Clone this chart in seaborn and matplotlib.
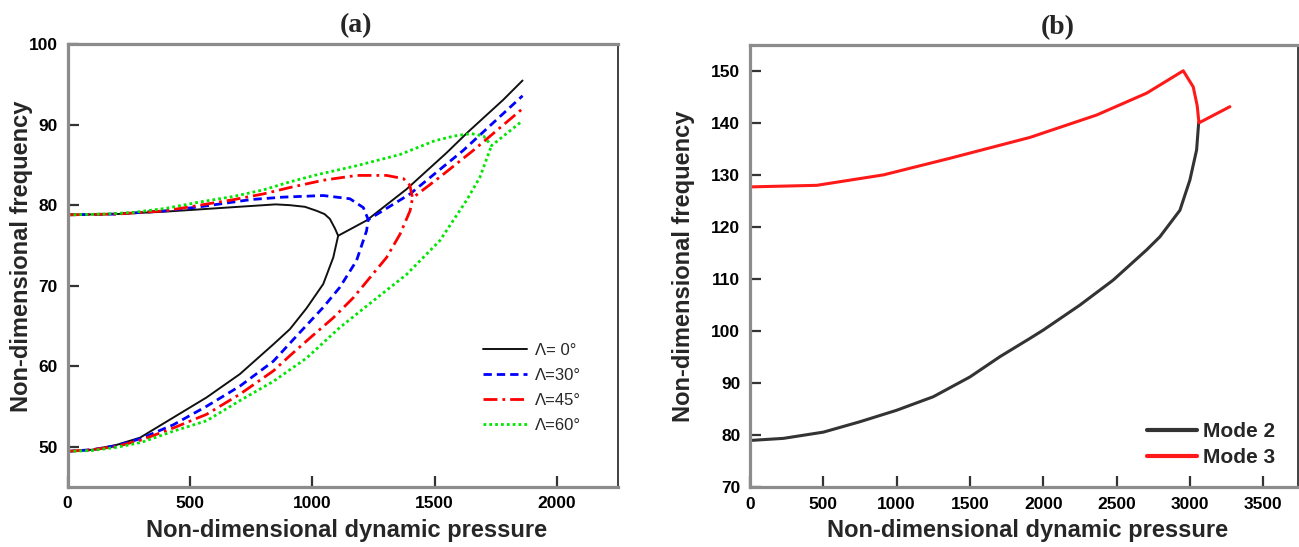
import matplotlib
matplotlib.use('Agg')
import pandas as pd
import seaborn as sns
from matplotlib import pyplot as plt

# ---- panel (a): sweep angle curves, two branches each ----
sweep_labels = ['Λ= 0°', 'Λ=30°', 'Λ=45°', 'Λ=60°']

upper_0_x = [0, 200, 400, 600, 750, 850, 909, 970, 1018, 1050, 1072, 1093, 1106, 1222, 1386, 1549, 1637, 1781, 1860]
upper_0_y = [78.8, 78.9, 79.2, 79.6, 79.9, 80.1, 80.0, 79.8, 79.3, 78.9, 78.3, 77.1, 76.2, 78.1, 82.0, 86.5, 89.1, 93.1, 95.5]
lower_0_x = [0, 100, 200, 296, 432, 568, 704, 841, 909, 977, 1045, 1086, 1106]
lower_0_y = [49.4, 49.6, 50.2, 51.1, 53.6, 56.1, 59.0, 62.7, 64.6, 67.2, 70.2, 73.5, 76.2]

upper_30_x = [0, 200, 400, 540, 680, 750, 880, 1045, 1154, 1209, 1229, 1400, 1617, 1860]
upper_30_y = [78.8, 78.9, 79.3, 79.8, 80.4, 80.7, 81.0, 81.2, 80.8, 79.7, 78.2, 81.4, 86.8, 93.6]
lower_30_x = [0, 100, 200, 300, 432, 568, 704, 841, 950, 1045, 1113, 1181, 1222, 1229]
lower_30_y = [49.4, 49.6, 50.1, 51.0, 52.7, 55.0, 57.5, 60.6, 64.2, 67.3, 69.8, 73.1, 76.8, 78.2]

upper_45_x = [0, 200, 400, 540, 680, 800, 909, 1045, 1181, 1304, 1373, 1399, 1410, 1522, 1658, 1860]
upper_45_y = [78.8, 78.9, 79.3, 80.0, 80.7, 81.4, 82.2, 83.1, 83.7, 83.7, 83.3, 82.5, 80.9, 83.5, 86.8, 92.0]
lower_45_x = [0, 100, 200, 300, 432, 568, 704, 841, 909, 991, 1086, 1168, 1236, 1304, 1359, 1400, 1410]
lower_45_y = [49.4, 49.6, 50.0, 50.8, 52.3, 54.0, 56.5, 59.4, 61.3, 63.5, 66.0, 68.5, 71.0, 73.5, 76.4, 79.3, 80.9]

upper_60_x = [0, 150, 268, 400, 541, 680, 800, 909, 1021, 1181, 1295, 1359, 1500, 1580, 1650, 1700, 1733, 1860]
upper_60_y = [78.8, 78.9, 79.1, 79.6, 80.4, 81.1, 81.9, 82.9, 83.8, 84.9, 85.8, 86.3, 88.0, 88.6, 88.9, 88.6, 87.4, 90.5]
lower_60_x = [0, 100, 200, 300, 432, 568, 704, 841, 977, 1113, 1249, 1386, 1522, 1631, 1686, 1733]
lower_60_y = [49.4, 49.5, 49.9, 50.5, 51.9, 53.2, 55.7, 58.1, 61.0, 64.8, 68.1, 71.4, 75.6, 80.6, 83.5, 87.4]

# ---- panel (b): mode 2 / mode 3 ----
mode2_x = [0, 227, 500, 750, 1000, 1250, 1500, 1705, 1909, 2000, 2250, 2477, 2705, 2795, 2932, 3000, 3046, 3060]
mode2_y = [79.0, 79.4, 80.6, 82.6, 84.8, 87.4, 91.2, 95.1, 98.6, 100.2, 105.0, 109.8, 115.6, 118.1, 123.2, 129.0, 134.8, 140.0]
mode3_x = [0, 455, 909, 1364, 1909, 2364, 2705, 2955, 3023, 3050, 3062, 3273]
mode3_y = [127.7, 128.0, 130.0, 133.2, 137.2, 141.5, 145.7, 150.0, 146.9, 143.3, 140.0, 143.1]

xticks_a = [0, 500, 1000, 1500, 2000]
yticks_a = [50, 60, 70, 80, 90, 100]
xticks_b = [0, 500, 1000, 1500, 2000, 2500, 3000, 3500]
yticks_b = [70, 80, 90, 100, 110, 120, 130, 140, 150]


def build_sweep_df():
    rows = []
    series = [(upper_0_x, upper_0_y, lower_0_x, lower_0_y),
              (upper_30_x, upper_30_y, lower_30_x, lower_30_y),
              (upper_45_x, upper_45_y, lower_45_x, lower_45_y),
              (upper_60_x, upper_60_y, lower_60_x, lower_60_y)]
    for lab, (ux, uy, lx, ly) in zip(sweep_labels, series):
        for x, y in zip(ux, uy):
            rows.append([x, y, lab, 'upper'])
        for x, y in zip(lx, ly):
            rows.append([x, y, lab, 'lower'])
    return pd.DataFrame(rows, columns=['Pressure', 'Frequency', 'Sweep', 'Branch'])


def build_mode_df():
    m2 = pd.DataFrame({'Pressure': mode2_x, 'Frequency': mode2_y})
    m2['Mode'] = 'Mode 2'
    m3 = pd.DataFrame({'Pressure': mode3_x, 'Frequency': mode3_y})
    m3['Mode'] = 'Mode 3'
    return pd.concat([m2, m3]).reset_index(drop=True)


def style_axes(ax, xticks, yticks):
    for side in ['top', 'left', 'bottom']:
        ax.spines[side].set_color('#8c8c8c')
        ax.spines[side].set_linewidth(2.3)
    ax.spines['right'].set_color('#333333')
    ax.spines['right'].set_linewidth(1.3)
    ax.set_xticks(xticks)
    ax.set_yticks(yticks)
    ax.tick_params(axis='both', which='major', direction='in', length=8, width=1.6,
                   color='#333333', labelcolor='black', labelsize=12.5, pad=7,
                   bottom=True, left=True, top=False, right=False)
    for tick in ax.xaxis.get_major_ticks() + ax.yaxis.get_major_ticks():
        tick.label1.set_fontweight('bold')


def plot_panels():
    sns.set_style('ticks', {'xtick.direction': 'in', 'ytick.direction': 'in'})
    plt.rcParams['font.family'] = ['Liberation Sans', 'DejaVu Sans']

    fig = plt.figure(figsize=(12.99, 5.47), dpi=100)
    ax_a = fig.add_axes([0.0521, 0.1102, 0.4236, 0.8088])
    ax_b = fig.add_axes([0.5774, 0.1091, 0.4221, 0.8091])

    df_a = build_sweep_df()
    palette = {'Λ= 0°': '#111111', 'Λ=30°': '#0000ff', 'Λ=45°': '#ff0000', 'Λ=60°': '#00e600'}
    dashes = {'Λ= 0°': '', 'Λ=30°': (3, 1.8), 'Λ=45°': (5, 1.8, 1, 1.8), 'Λ=60°': (1, 1.1)}
    sizes = {'Λ= 0°': 1.4, 'Λ=30°': 2.0, 'Λ=45°': 2.0, 'Λ=60°': 2.0}
    sns.lineplot(data=df_a, x='Pressure', y='Frequency', hue='Sweep', style='Sweep', size='Sweep',
                 units='Branch', estimator=None, sort=False, palette=palette, dashes=dashes,
                 sizes=sizes, hue_order=sweep_labels, style_order=sweep_labels, size_order=sweep_labels,
                 ax=ax_a)
    ax_a.set_xlim(0, 2250)
    ax_a.set_ylim(45, 100)
    handles, labels = ax_a.get_legend_handles_labels()
    ax_a.legend(handles, labels, loc='upper left', bbox_to_anchor=(0.754, 0.325), frameon=False,
                fontsize=12, handlelength=2.65, handletextpad=0.5, labelspacing=0.6,
                borderpad=0, borderaxespad=0)

    df_b = build_mode_df()
    sns.lineplot(data=df_b, x='Pressure', y='Frequency', hue='Mode', estimator=None, sort=False,
                 palette={'Mode 2': '#333333', 'Mode 3': '#ff1a1a'}, linewidth=2.2, ax=ax_b)
    ax_b.set_xlim(0, 3740)
    ax_b.set_ylim(70, 155)
    handles, labels = ax_b.get_legend_handles_labels()
    leg = ax_b.legend(handles, labels, loc='upper left', bbox_to_anchor=(0.7235, 0.148), frameon=False,
                      prop={'size': 15, 'weight': 'bold'}, handlelength=2.4, handletextpad=0.3,
                      labelspacing=0.35, borderpad=0, borderaxespad=0)
    for line in leg.get_lines():
        line.set_linewidth(3)

    for ax, xt, yt in ((ax_a, xticks_a, yticks_a), (ax_b, xticks_b, yticks_b)):
        ax.set_xlabel('Non-dimensional dynamic pressure', fontsize=17, fontweight='bold')
        ax.set_ylabel('Non-dimensional frequency', fontsize=17, fontweight='bold')
        style_axes(ax, xt, yt)
    ax_a.xaxis.set_label_coords(0.506, -0.072)
    ax_a.yaxis.set_label_coords(-0.063, 0.52)
    ax_b.xaxis.set_label_coords(0.507, -0.072)
    ax_b.yaxis.set_label_coords(-0.100, 0.50)

    fig.text(356 / 1299, 1 - 26 / 547, '(a)', ha='center', va='center', fontsize=20,
             fontweight='bold', family='Liberation Serif')
    fig.text(1058 / 1299, 1 - 28 / 547, '(b)', ha='center', va='center', fontsize=20,
             fontweight='bold', family='Liberation Serif')

    plt.savefig('out.png', dpi=100)


if __name__ == '__main__':
    plot_panels()
